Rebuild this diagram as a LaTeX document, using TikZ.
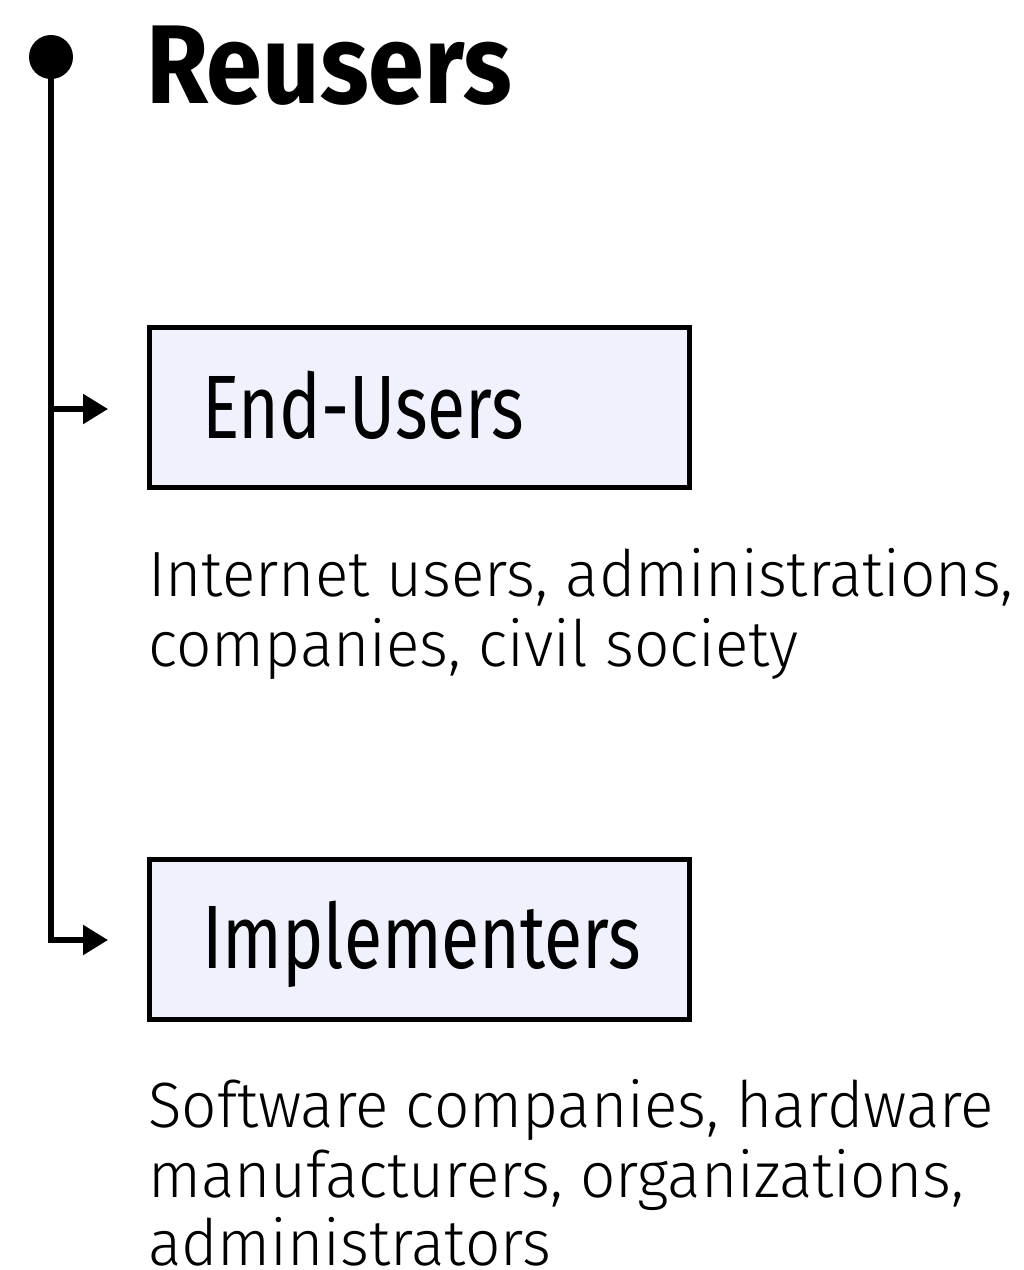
\documentclass[tikz,border=0pt]{standalone}
\usepackage{fontspec}
\usetikzlibrary{arrows.meta}
\setmainfont{Fira Sans}
\newfontfamily\titlefont[FakeStretch=0.9]{Fira Sans}
\newfontfamily\boxfont[FakeStretch=0.775]{Fira Sans}
\newfontfamily\bodyfont[FakeStretch=0.97]{Fira Sans Light}
\definecolor{boxfill}{RGB}{239,241,253}
\begin{document}
\begin{tikzpicture}[x=1pt,y=-1pt,
  trunk/.style={line width=5.5pt},
  branch/.style={line width=5.5pt,-{Triangle[length=25pt,width=29pt]}},
  catbox/.style={draw=black,line width=5pt,fill=boxfill,minimum width=540pt,minimum height=160pt,inner sep=0pt},
  boxtext/.style={anchor=base west,inner sep=0pt,font=\boxfont\fontsize{90}{90}\selectfont},
  bodytext/.style={anchor=base west,inner sep=0pt,font=\bodyfont\fontsize{64}{70}\selectfont}]
\useasboundingbox (0,0) rectangle (1024,1270);
\node[circle,fill=black,minimum size=44pt,inner sep=0pt] (dot) at (51,57) {};
\node[anchor=base west,inner sep=0pt,font=\titlefont\bfseries\fontsize{112}{112}\selectfont] (title) at (146,103) {Reusers};
\node[catbox] (eubox) at (419.5,407.5) {};
\node[boxtext] (eutext) at (202,438) {End-Users};
\node[catbox] (imbox) at (419.5,939) {};
\node[boxtext] (imtext) at (202,968) {Implementers};
\coordinate (tip1) at (108,409);
\coordinate (tip2) at (108,940);
\coordinate (j1) at (51,409);
\draw[trunk] (dot.center) -- (j1);
\draw[branch] (j1) -- (tip1);
\draw[branch] (j1) |- (tip2);
\node[bodytext] (eu1) at (148,596) {Internet users, administrations,};
\node[bodytext] (eu2) at (148,666) {companies, civil society};
\node[bodytext] (im1) at (148,1127) {Software companies, hardware};
\node[bodytext] (im2) at (148,1197) {manufacturers, organizations,};
\node[bodytext] (im3) at (148,1265) {administrators};
\end{tikzpicture}
\end{document}
